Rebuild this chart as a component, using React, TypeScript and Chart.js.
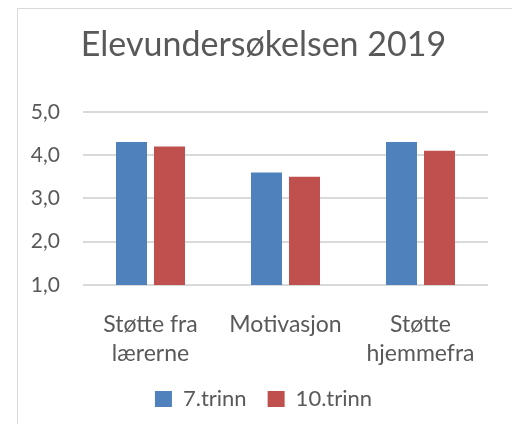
import React, { useEffect, useRef } from "react";
import { Chart, registerables } from "chart.js";

Chart.register(...registerables);

const categories: (string | string[])[] = [["Støtte fra", "lærerne"], "Motivasjon", ["Støtte", "hjemmefra"]];
const seriesNames = ["7.trinn", "10.trinn"];
const trinn7 = [4.3, 3.6, 4.3];
const trinn10 = [4.2, 3.5, 4.1];
const yTicks = [1, 2, 3, 4, 5];
const titleText = "Elevundersøkelsen 2019";

const FONT = "Lato, 'Noto Sans', sans-serif";
const TEXT = "#595959";

export default function App() {
  const ref = useRef<HTMLCanvasElement | null>(null);
  useEffect(() => {
    if (!ref.current) return;
    const chart = new Chart(ref.current, {
      type: "bar",
      data: {
        labels: categories,
        datasets: [
          { label: seriesNames[0], data: trinn7, backgroundColor: "#4F81BD", categoryPercentage: 0.563, barPercentage: 0.816 },
          { label: seriesNames[1], data: trinn10, backgroundColor: "#C0504D", categoryPercentage: 0.563, barPercentage: 0.816 },
        ],
      },
      options: {
        animation: false,
        responsive: true,
        maintainAspectRatio: false,
        layout: { padding: { left: 0, right: 6, top: 0, bottom: 4 } },
        plugins: {
          title: {
            display: true,
            text: titleText,
            color: TEXT,
            font: { family: FONT, size: 34, weight: "normal" },
            padding: { top: 16, bottom: 46 },
          },
          legend: {
            position: "bottom",
            labels: {
              color: TEXT,
              font: { family: FONT, size: 22 },
              boxWidth: 17,
              boxHeight: 16,
              padding: 21,
            },
          },
          tooltip: { enabled: false },
        },
        scales: {
          x: {
            grid: { display: false, drawTicks: false },
            border: { display: false },
            afterFit: (scale: any) => {
              scale.height = 82;
            },
            ticks: {
              color: TEXT,
              font: { family: FONT, size: 23, lineHeight: 1.22 },
              padding: 26,
              maxRotation: 0,
              autoSkip: false,
            },
          },
          y: {
            min: yTicks[0],
            max: yTicks[yTicks.length - 1],
            grid: { color: "#D9D9D9", lineWidth: 2, drawTicks: false },
            border: { display: false },
            afterFit: (scale: any) => {
              scale.width = 65;
            },
            afterBuildTicks: (scale: any) => {
              scale.ticks = yTicks.map((v) => ({ value: v }));
            },
            ticks: {
              color: TEXT,
              font: { family: FONT, size: 21 },
              padding: 23,
              callback: (v: any) => Number(v).toFixed(1).replace(".", ","),
            },
          },
          yRight: {
            position: "right",
            display: true,
            min: yTicks[0],
            max: yTicks[yTicks.length - 1],
            grid: { display: false, drawTicks: false },
            border: { display: false },
            ticks: { display: false },
            afterFit: (scale: any) => {
              scale.width = 21;
            },
          },
        },
      },
    });
    return () => chart.destroy();
  }, []);
  return (
    <div
      style={{
        marginLeft: 9,
        width: 499,
        height: 416,
        boxSizing: "border-box",
        borderTop: "1px solid #D9D9D9",
        borderLeft: "1px solid #D9D9D9",
        borderRight: "1px solid #D9D9D9",
        background: "#fff",
      }}
    >
      <div style={{ position: "relative", width: 497, height: 415 }}>
        <canvas ref={ref} />
      </div>
    </div>
  );
}
